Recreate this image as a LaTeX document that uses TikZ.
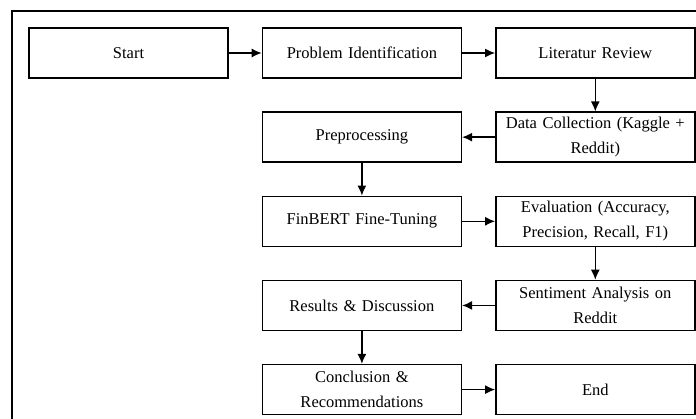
\documentclass[tikz,border=0pt]{standalone}
\usepackage{fontspec}
\setmainfont{Liberation Serif}
\usetikzlibrary{positioning,arrows.meta}

\tikzset{
  stepbox/.style={draw,line width=1.4pt,minimum width=199pt,minimum height=50pt,
    text width=195pt,align=center,inner sep=2pt,font=\fontsize{16.5}{25}\selectfont},
  flow/.style={-{Latex[length=10pt,width=9pt]},line width=1.4pt}
}

\begin{document}
\begin{tikzpicture}[x=1pt,y=-1pt,node distance=32.75pt and 33pt]
  \useasboundingbox (0,0) rectangle (696,419);

  %frame
  \draw[line width=1.4pt] (700,11) -- (12,11) -- (12,425);

  %nodes
  \node[stepbox] (start) at (128.5,53) {Start};
  \node[stepbox,right=of start] (probid) {Problem Identification};
  \node[stepbox,right=of probid] (litrev) {Literatur Review};
  \node[stepbox,below=of litrev] (datacol) {Data Collection (Kaggle +\\ Reddit)};
  \node[stepbox,below=of probid] (prepro) {Preprocessing};
  \node[stepbox,below=of prepro] (finbert) {FinBERT Fine-Tuning};
  \node[stepbox,below=of datacol] (evalm) {Evaluation (Accuracy,\\ Precision, Recall, F1)};
  \node[stepbox,below=of evalm] (senti) {Sentiment Analysis on\\ Reddit};
  \node[stepbox,below=of finbert] (results) {Results \& Discussion};
  \node[stepbox,below=of results] (concl) {Conclusion \&\\ Recommendations};
  \node[stepbox,below=of senti] (finish) {End};

  %arrows
  \draw[flow] (start) -- (probid);
  \draw[flow] (probid) -- (litrev);
  \draw[flow] (litrev) -- (datacol);
  \draw[flow] (datacol) -- (prepro);
  \draw[flow] (prepro) -- (finbert);
  \draw[flow] (finbert) -- (evalm);
  \draw[flow] (evalm) -- (senti);
  \draw[flow] (senti) -- (results);
  \draw[flow] (results) -- (concl);
  \draw[flow] (concl) -- (finish);
\end{tikzpicture}
\end{document}
